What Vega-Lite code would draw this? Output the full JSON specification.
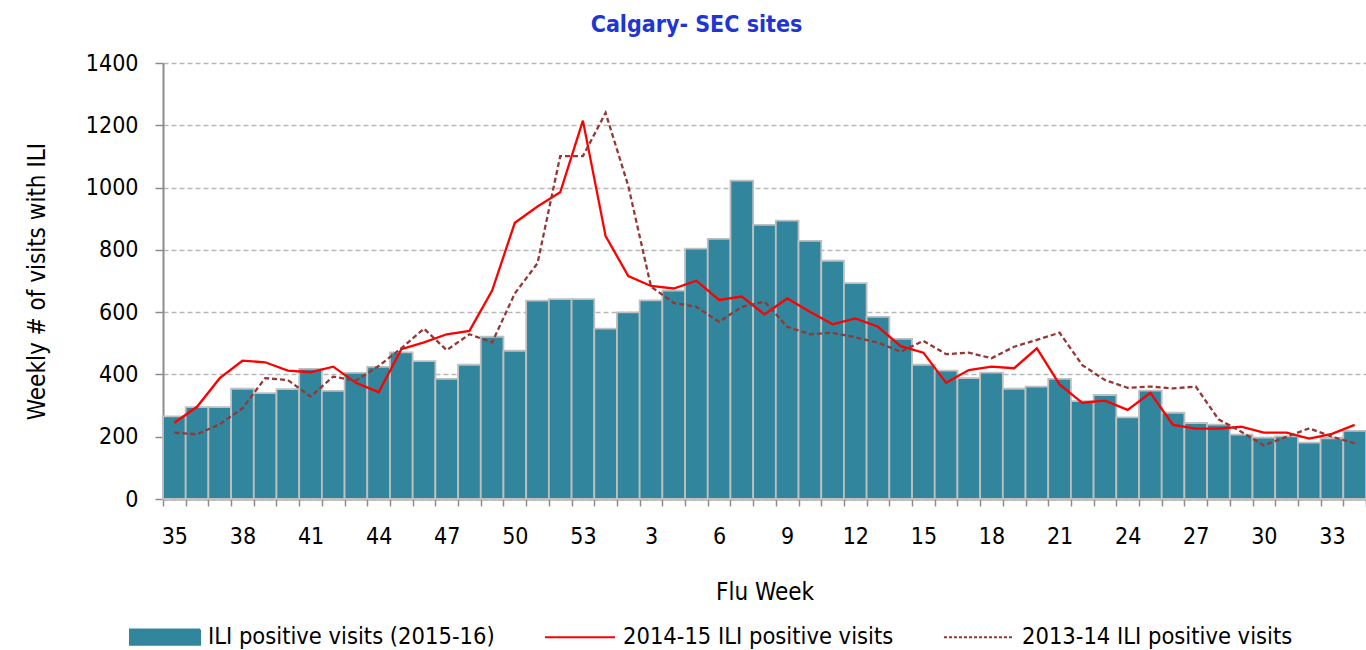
{
  "$schema": "https://vega.github.io/schema/vega-lite/v6.json",
  "width": 1203,
  "height": 436,
  "autosize": {"type": "none"},
  "padding": {"left": 163, "top": 63, "right": 0, "bottom": 151},
  "background": "white",
  "config": {"view": {"stroke": null}, "font": "DejaVu Sans Condensed"},
  "title": {"text": "Calgary- SEC sites", "color": "#1f35d4", "fontSize": 23, "fontWeight": "bold", "font": "DejaVu Sans Condensed", "anchor": "middle", "dx": -68, "offset": 15},
  "data": {"values": [
    {"w": 35, "s15": 265, "s14": 245, "s13": 213},
    {"w": 36, "s15": 295, "s14": 296, "s13": 208},
    {"w": 37, "s15": 295, "s14": 388, "s13": 240},
    {"w": 38, "s15": 354, "s14": 444, "s13": 291},
    {"w": 39, "s15": 340, "s14": 439, "s13": 388},
    {"w": 40, "s15": 353, "s14": 412, "s13": 382},
    {"w": 41, "s15": 418, "s14": 407, "s13": 329},
    {"w": 42, "s15": 347, "s14": 425, "s13": 393},
    {"w": 43, "s15": 405, "s14": 373, "s13": 380},
    {"w": 44, "s15": 424, "s14": 343, "s13": 427},
    {"w": 45, "s15": 471, "s14": 481, "s13": 484},
    {"w": 46, "s15": 443, "s14": 503, "s13": 547},
    {"w": 47, "s15": 386, "s14": 529, "s13": 478},
    {"w": 48, "s15": 431, "s14": 540, "s13": 529},
    {"w": 49, "s15": 521, "s14": 669, "s13": 503},
    {"w": 50, "s15": 476, "s14": 887, "s13": 660},
    {"w": 51, "s15": 637, "s14": 939, "s13": 757},
    {"w": 52, "s15": 642, "s14": 985, "s13": 1101},
    {"w": 53, "s15": 642, "s14": 1215, "s13": 1101},
    {"w": 1, "s15": 547, "s14": 844, "s13": 1240},
    {"w": 2, "s15": 599, "s14": 716, "s13": 1005},
    {"w": 3, "s15": 638, "s14": 684, "s13": 682},
    {"w": 4, "s15": 669, "s14": 676, "s13": 630},
    {"w": 5, "s15": 804, "s14": 701, "s13": 617},
    {"w": 6, "s15": 835, "s14": 639, "s13": 569},
    {"w": 7, "s15": 1022, "s14": 650, "s13": 617},
    {"w": 8, "s15": 880, "s14": 593, "s13": 634},
    {"w": 9, "s15": 894, "s14": 644, "s13": 553},
    {"w": 10, "s15": 829, "s14": 601, "s13": 529},
    {"w": 11, "s15": 765, "s14": 561, "s13": 534},
    {"w": 12, "s15": 693, "s14": 580, "s13": 519},
    {"w": 13, "s15": 585, "s14": 553, "s13": 502},
    {"w": 14, "s15": 514, "s14": 491, "s13": 473},
    {"w": 15, "s15": 431, "s14": 470, "s13": 508},
    {"w": 16, "s15": 412, "s14": 373, "s13": 465},
    {"w": 17, "s15": 388, "s14": 414, "s13": 470},
    {"w": 18, "s15": 406, "s14": 425, "s13": 452},
    {"w": 19, "s15": 354, "s14": 420, "s13": 489},
    {"w": 20, "s15": 361, "s14": 484, "s13": 511},
    {"w": 21, "s15": 386, "s14": 368, "s13": 534},
    {"w": 22, "s15": 314, "s14": 309, "s13": 430},
    {"w": 23, "s15": 334, "s14": 316, "s13": 382},
    {"w": 24, "s15": 262, "s14": 286, "s13": 357},
    {"w": 25, "s15": 348, "s14": 341, "s13": 361},
    {"w": 26, "s15": 277, "s14": 238, "s13": 355},
    {"w": 27, "s15": 244, "s14": 226, "s13": 361},
    {"w": 28, "s15": 239, "s14": 226, "s13": 256},
    {"w": 29, "s15": 207, "s14": 232, "s13": 216},
    {"w": 30, "s15": 197, "s14": 213, "s13": 172},
    {"w": 31, "s15": 201, "s14": 213, "s13": 200},
    {"w": 32, "s15": 181, "s14": 194, "s13": 227},
    {"w": 33, "s15": 195, "s14": 209, "s13": 200},
    {"w": 34, "s15": 219, "s14": 238, "s13": 179}
  ]},
  "transform": [{"fold": ["s15", "s14", "s13"], "as": ["series", "value"]}],
  "encoding": {
    "x": {
      "field": "w", "type": "ordinal",
      "sort": [35,36,37,38,39,40,41,42,43,44,45,46,47,48,49,50,51,52,53,1,2,3,4,5,6,7,8,9,10,11,12,13,14,15,16,17,18,19,20,21,22,23,24,25,26,27,28,29,30,31,32,33,34],
      "scale": {"paddingInner": 0, "paddingOuter": 0},
      "axis": {
        "title": "Flu Week", "titleFontSize": 24, "titleFontWeight": "normal", "titleColor": "black", "titlePadding": 32,
        "labelExpr": "(datum.value >= 35 ? datum.value % 3 == 2 : datum.value % 3 == 0) ? datum.label : ''",
        "labelAngle": 0, "labelOverlap": false, "labelFontSize": 23, "labelColor": "black", "labelPadding": 19,
        "tickBand": "extent", "tickColor": "#8c8c8c", "tickSize": 7, "tickWidth": 1.5,
        "domainColor": "#8c8c8c", "domainWidth": 2, "grid": false
      }
    },
    "y": {
      "field": "value", "type": "quantitative",
      "scale": {"domain": [0, 1400], "nice": false},
      "axis": {
        "title": "Weekly # of visits with ILI", "titleFontSize": 24, "titleFontWeight": "normal", "titleColor": "black", "titlePadding": 36,
        "values": [0, 200, 400, 600, 800, 1000, 1200, 1400], "format": "d",
        "labelFontSize": 23, "labelColor": "black", "labelPadding": 17,
        "tickColor": "#8c8c8c", "tickSize": 8, "tickWidth": 1.5,
        "domainColor": "#8c8c8c", "domainWidth": 2,
        "grid": true, "gridColor": "#b8b8b8", "gridDash": [5, 3], "gridWidth": 1.5
      }
    },
    "color": {
      "field": "series", "type": "nominal",
      "scale": {"domain": ["s15", "s14", "s13"], "range": ["#31859c", "#ff0000", "#953735"]},
      "legend": {
        "title": null, "orient": "none", "direction": "horizontal", "legendX": -34, "legendY": 538,
        "symbolSize": 4900, "symbolType": "stroke", "symbolStrokeWidth": 2, "labelFontSize": 23.5, "labelColor": "black", "labelLimit": 0,
        "labelOffset": 7, "columnPadding": 46,
        "labelExpr": "datum.value == 's15' ? 'ILI positive visits (2015-16)' : datum.value == 's14' ? '2014-15 ILI positive visits' : '2013-14 ILI positive visits'",
        "encode": {"symbols": {"update": {
          "size": {"value": 4900},
          "strokeWidth": {"value": 2},
          "shape": {"signal": "datum.value == 's15' ? 'M-1,-0.22H1V0.22H-1Z' : 'stroke'"},
          "fill": {"signal": "datum.value == 's15' ? '#31859c' : 'transparent'"},
          "stroke": {"signal": "datum.value == 's15' ? '#bfbfbf' : datum.value == 's14' ? '#ff0000' : '#953735'"},
          "strokeDash": {"signal": "datum.value == 's13' ? [3, 2] : [1, 0]"},
          "opacity": {"value": 1}
        }}}
      }
    }
  },
  "layer": [
    {"transform": [{"filter": "datum.series == 's15'"}], "mark": {"type": "bar", "stroke": "#bfbfbf", "strokeWidth": 1.8}},
    {"transform": [{"filter": "datum.series == 's14'"}], "mark": {"type": "line", "strokeWidth": 2.3}},
    {"transform": [{"filter": "datum.series == 's13'"}], "mark": {"type": "line", "strokeWidth": 2.3, "strokeDash": [5, 3]}}
  ]
}
